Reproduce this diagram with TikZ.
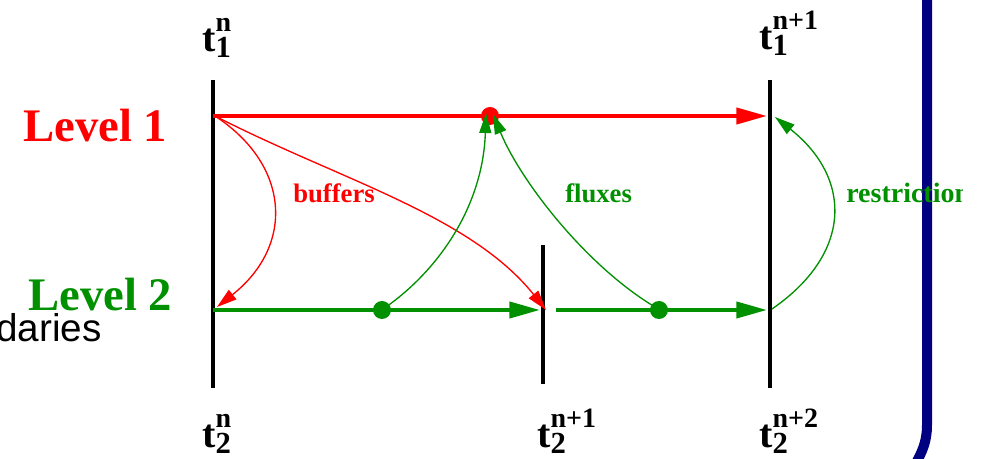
\documentclass[tikz,border=0pt]{standalone}
\usepackage{fontspec}
\setmainfont{Liberation Serif}
\newfontfamily\sansfam{Liberation Sans}
\usetikzlibrary{arrows.meta}
\definecolor{lvgreen}{RGB}{0,144,0}
\definecolor{navyb}{RGB}{0,0,128}
\newcommand{\tlab}[2]{\fontsize{30}{30}\selectfont\textbf{t}\rlap{\raisebox{15pt}{\fontsize{21}{21}\selectfont\textbf{#2}}}\raisebox{-4.5pt}{\fontsize{23}{23}\selectfont\textbf{#1}}}
\begin{document}
\begin{tikzpicture}[x=0.75pt,y=-0.75pt,
  vline/.style={line width=3.4pt, black},
  thickred/.style={line width=3pt, red, -{Triangle[length=23pt,width=12pt]}},
  thickgreen/.style={line width=3pt, lvgreen, -{Triangle[length=23pt,width=12pt]}},
  thinred/.style={line width=1pt, red, -{Triangle[length=15pt,width=9pt]}},
  thingreen/.style={line width=1pt, lvgreen, -{Triangle[length=15pt,width=9pt]}},
  txt/.style={inner sep=0pt, anchor=base west},
  dot/.style={circle, inner sep=0pt, minimum size=13.5pt}]
\useasboundingbox (0,0) rectangle (983,459);

% blue bracket
\coordinate (br1) at (927,-5);
\coordinate (br2) at (927,425);
\coordinate (br3) at (915,465);
\draw[navyb, line width=7.5pt] (br1) -- (br2) .. controls (927,442) and (922,452) .. (br3);

% vertical time lines
\coordinate (v1t) at (213,80);  \coordinate (v1b) at (213,388);
\coordinate (v2t) at (543,245); \coordinate (v2b) at (543,384);
\coordinate (v3t) at (770,80);  \coordinate (v3b) at (770,388);
\draw[vline] (v1t) -- (v1b);
\draw[vline] (v2t) -- (v2b);
\draw[vline] (v3t) -- (v3b);

% level lines
\coordinate (L1s) at (213,116); \coordinate (L1e) at (767,116);
\coordinate (L2s) at (213,310); \coordinate (L2m) at (540,310);
\coordinate (L2r) at (556,310); \coordinate (L2e) at (767,310);
\draw[thickred] (L1s) -- (L1e);
\draw[thickgreen] (L2s) -- (L2m);
\draw[thickgreen] (L2r) -- (L2e);

% dots
\node[dot, fill=red] (rdot) at (490,116) {};
\node[dot, fill=lvgreen] (gdot1) at (382,310) {};
\node[dot, fill=lvgreen] (gdot2) at (659,310) {};

% buffers
\coordinate (b0) at (215,116);
\coordinate (b1e) at (217,307);
\coordinate (b2e) at (546,310);
\draw[thinred] (b0) .. controls (290,165) and (295,245) .. (b1e);
\draw[thinred] (b0) .. controls (340,180) and (470,215) .. (b2e);

% fluxes
\coordinate (f1s) at (386,307);
\coordinate (f1e) at (486,113);
\coordinate (f2s) at (655,307);
\coordinate (f2e) at (493,114);
\draw[thingreen] (f1s) .. controls (441,268) and (483,204) .. (f1e);
\draw[thingreen] (f2s) .. controls (585,265) and (520,180) .. (f2e);

% restriction
\coordinate (r0) at (772,309);
\coordinate (r1) at (775,117);
\draw[thingreen] (r0) .. controls (853,253) and (852,178) .. (r1);

% labels
\node[txt, text=red] (lev1) at (23,142) {\fontsize{35}{35}\selectfont\bfseries Level 1};
\node[txt, text=lvgreen] (lev2) at (28,311) {\fontsize{35}{35}\selectfont\bfseries Level 2};
\node[inner sep=0pt, anchor=base east] (dar) at (102,342) {\sansfam\fontsize{29}{29}\selectfont daries};
\node[txt, text=red] (buf) at (293,203) {\fontsize{20}{20}\selectfont\bfseries buffers};
\node[txt, text=lvgreen] (flx) at (565,203) {\fontsize{20}{20}\selectfont\bfseries fluxes};
\begin{scope}
\clip (0,0) rectangle (962,459);
\node[txt, text=lvgreen] (rst) at (846,203) {\fontsize{21}{21}\selectfont\bfseries restriction};
\end{scope}

\node[txt] (t1n) at (202,52) {\tlab{1}{n}};
\node[txt] (t1n1) at (759,50) {\tlab{1}{n+1}};
\node[txt] (t2n) at (202,448) {\tlab{2}{n}};
\node[txt] (t2n1) at (537,448) {\tlab{2}{n+1}};
\node[txt] (t2n2) at (759,448) {\tlab{2}{n+2}};
\end{tikzpicture}
\end{document}
